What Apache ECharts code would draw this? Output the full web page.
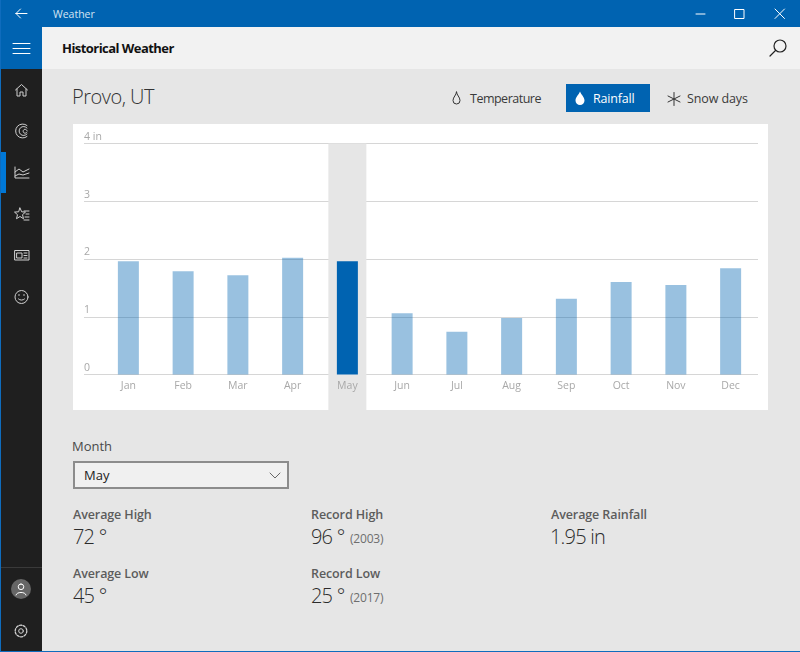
<!DOCTYPE html>
<html>
<head>
<meta charset="utf-8">
<title>Historical Weather</title>
<script src="https://cdn.jsdelivr.net/npm/echarts@6/dist/echarts.min.js"></script>
<style>
  html, body { margin: 0; padding: 0; }
  body { width: 800px; height: 652px; overflow: hidden; position: relative; background: #e6e6e6; font-family: "Open Sans", sans-serif; }
  .box { position: absolute; }
  .t { position: absolute; white-space: nowrap; line-height: 20px; height: 20px; }
  .label { font-size: 12.5px; color: #5c5c5c; font-weight: 600; letter-spacing: -0.1px; }
  .big { font-size: 20px; color: #2b2b2b; font-weight: 300; letter-spacing: -0.8px; }
  .year { font-size: 12px; color: #6e6e6e; letter-spacing: -0.2px; }
  .opt { font-size: 12.5px; color: #3a3a3a; }
  svg { position: absolute; overflow: visible; fill: none; stroke-linecap: round; stroke-linejoin: round; }
  #chart { position: absolute; left: 73px; top: 124px; width: 695px; height: 286px; }
</style>
</head>
<body>
  <!-- window chrome -->
  <div class="box" style="left:0;top:0;width:800px;height:27px;background:#0063b1"></div>
  <div class="box" style="left:0;top:27px;width:42px;height:42px;background:#0063b1"></div>
  <div class="box" style="left:42px;top:27px;width:758px;height:42px;background:#f2f2f2"></div>
  <div class="box" style="left:0;top:69px;width:42px;height:583px;background:#1f1f1f"></div>
  <div class="box" style="left:0;top:0;width:1px;height:652px;background:#0f6cbd"></div>
  <div class="box" style="left:0;top:651px;width:800px;height:1px;background:#0f6cbd"></div>
  <div class="box" style="left:1px;top:152px;width:5px;height:41px;background:#0078d7"></div>
  <div class="box" style="left:1px;top:567px;width:41px;height:1px;background:#3a3a3a"></div>
  <div class="box" style="left:21px;top:579px;width:20px;height:20px;margin-left:-10px;border-radius:50%;background:#666"></div>

  <div class="t" style="left:53px;top:4px;font-size:10.5px;color:#d5e5f3">Weather</div>
  <div class="t" style="left:62px;top:38px;font-size:13px;font-weight:700;color:#111;letter-spacing:-0.55px">Historical Weather</div>
  <div class="t" style="left:72px;top:87px;font-size:20px;font-weight:300;color:#333;letter-spacing:-0.5px">Provo, UT</div>

  <div class="box" style="left:566px;top:84px;width:84px;height:28px;background:#0063b1"></div>
  <div class="t opt" style="left:470px;top:89px;letter-spacing:-0.5px">Temperature</div>
  <div class="t opt" style="left:593px;top:89px;color:#fff;letter-spacing:-0.2px">Rainfall</div>
  <div class="t opt" style="left:687px;top:89px;letter-spacing:-0.1px">Snow days</div>

  <svg width="800" height="652" style="left:0;top:0">
    <!-- title bar -->
    <g stroke="#fff" stroke-width="1">
      <path d="M16 13.5H27M16 13.5l4.5-4.5M16 13.5l4.5 4.5"/>
      <path d="M696 14H705"/>
      <rect x="735" y="9.5" width="9" height="9"/>
      <path d="M775 9l9.500 9.500M784.500 9L775 18.500"/>
      <path d="M13 43.500H30M13 48.500H30M13 53.500H30"/>
    </g>
    <!-- search -->
    <g stroke="#222" stroke-width="1.200">
      <circle cx="780" cy="46" r="6"/>
      <path d="M775.500 50.500L770 56"/>
    </g>
    <!-- option icons -->
    <path d="M456.500 92c0 3-3.500 5-3.500 8.500a3.500 3.500 0 0 0 7 0c0-3.500-3.500-5.500-3.500-8.500z" stroke="#333"/>
    <path d="M580 91.500c1 3 4.500 5.500 4.500 9a4.500 4.500 0 0 1-9 0c0-3.500 3.500-6 4.500-9z" fill="#fff"/>
    <path d="M674 92.500v13M668 96l12 6M680 96l-12 6" stroke="#333"/>
    <!-- rail icons -->
    <g stroke="#d0d0d0" stroke-width="1">
      <path d="M15.500 90l6-5.500 6 5.500M17 89v7h3v-4h3v4h3v-7"/>
      <path d="M27 125.500a7 7 0 1 0 0 11M27 128a4.500 4.500 0 1 0 0 6M27 130.500a2 2 0 1 0 0 1.500"/>
      <path d="M15 167v11h14M15 172l4-3 4 3 6-3M15 176l4-2 4 1 6-2"/>
      <path d="M20 208l1.700 3.800 3.800.3-3 2.600 1 4-3.500-2.200-3.500 2.200 1-4-3-2.600 3.800-.3zM24 211h5M26 214h3M25 217h4M24 220h5"/>
      <path d="M15 250.500h14v9.500H15zM17 253h5v5h-5zM24 253h3M24 255.500h3M24 258h3"/>
      <circle cx="21.500" cy="297" r="6.500"/>
      <path d="M18.500 299c1.500 1.500 4.500 1.500 6 0M19 294.500v1M24 294.500v1"/>
      <path d="M21 584a2.800 2.800 0 1 1 0 5.600 2.800 2.800 0 0 1 0-5.600zM16 595c.5-3.500 9.500-3.500 10 0" stroke="#fff"/>
      <circle cx="21" cy="631" r="2.300"/>
      <circle cx="21" cy="631" r="5.800" stroke-dasharray="2.200 1.400" stroke-width="1.300"/>
    </g>
  </svg>

  <!-- chart panel -->
  <div id="chart"></div>

  <!-- details under the chart -->
  <div class="t" style="left:72px;top:436px;font-size:13px;color:#4a4a4a">Month</div>
  <div class="box" style="left:73px;top:461px;width:212px;height:24px;border:2px solid #8c8c8c;background:#f0f0f0"></div>
  <div class="t" style="left:84px;top:465px;font-size:13px;color:#222">May</div>
  <svg width="12" height="8" style="left:269px;top:472px"><path d="M1 1l5 5 5-5" stroke="#666"/></svg>

  <div class="t label" style="left:73px;top:505px">Average High</div>
  <div class="t big" style="left:73px;top:527px">72 °</div>
  <div class="t label" style="left:73px;top:564px">Average Low</div>
  <div class="t big" style="left:73px;top:586px">45 °</div>

  <div class="t label" style="left:311px;top:505px">Record High</div>
  <div class="t big" style="left:311px;top:527px">96 °</div>
  <div class="t year" style="left:350px;top:529px">(2003)</div>
  <div class="t label" style="left:311px;top:564px">Record Low</div>
  <div class="t big" style="left:311px;top:586px">25 °</div>
  <div class="t year" style="left:350px;top:588px">(2017)</div>

  <div class="t label" style="left:551px;top:505px">Average Rainfall</div>
  <div class="t big" style="left:550px;top:527px">1.95 in</div>

<script>
var months = ['Jan', 'Feb', 'Mar', 'Apr', 'May', 'Jun', 'Jul', 'Aug', 'Sep', 'Oct', 'Nov', 'Dec'];
var rainfall = [1.96, 1.79, 1.72, 2.02, 1.96, 1.06, 0.74, 0.98, 1.31, 1.60, 1.55, 1.84];
var selectedMonth = 'May';
var yTicks = ['0', '1', '2', '3', '4 in'];

var myChart = echarts.init(document.getElementById('chart'), null, { renderer: 'canvas' });

// grid 0 only carries the long gridlines, grid 1 the bars, grid 2 the grey column
var option = {
  animation: false,
  backgroundColor: '#fff',
  textStyle: { fontFamily: 'Open Sans' },
  grid: [
    { left: 11, width: 674, top: 19.5, height: 231 },
    { left: 28, width: 657, top: 19.5, height: 231 },
    { left: 28, width: 657, top: 19.5, bottom: 0 }
  ],
  xAxis: [
    { gridIndex: 0, type: 'value', min: 0, max: 1, show: false },
    {
      gridIndex: 1,
      type: 'category',
      data: months,
      z: 5,
      axisLine: { show: false },
      axisTick: { show: false },
      axisLabel: { color: '#a8a8a8', fontSize: 10.5, margin: 6 }
    },
    { gridIndex: 2, type: 'category', data: months, show: false }
  ],
  yAxis: [
    {
      gridIndex: 0,
      type: 'value',
      min: 0,
      max: 4,
      interval: 1,
      axisLine: { show: false },
      axisTick: { show: false },
      splitLine: { lineStyle: { color: '#d6d6d6', width: 1 } },
      axisLabel: {
        inside: true,
        margin: 0,
        color: '#a8a8a8',
        fontSize: 10.5,
        verticalAlign: 'bottom',
        padding: [0, 0, 1, 0],
        formatter: function (value) { return yTicks[value]; }
      }
    },
    { gridIndex: 1, type: 'value', min: 0, max: 4, show: false },
    { gridIndex: 2, type: 'value', min: 0, max: 1, show: false }
  ],
  series: [
    {
      type: 'bar',
      xAxisIndex: 2,
      yAxisIndex: 2,
      z: 2,
      barWidth: 38,
      silent: true,
      itemStyle: { color: '#e6e6e6' },
      data: months.map(function (m) { return m === selectedMonth ? 1 : 0; })
    },
    {
      type: 'bar',
      xAxisIndex: 1,
      yAxisIndex: 1,
      z: 3,
      barWidth: 21,
      data: rainfall.map(function (v, i) {
        return {
          value: v,
          itemStyle: { color: months[i] === selectedMonth ? '#0063b1' : 'rgba(0, 99, 177, 0.4)' }
        };
      })
    }
  ]
};
myChart.setOption(option);
</script>
</body>
</html>
